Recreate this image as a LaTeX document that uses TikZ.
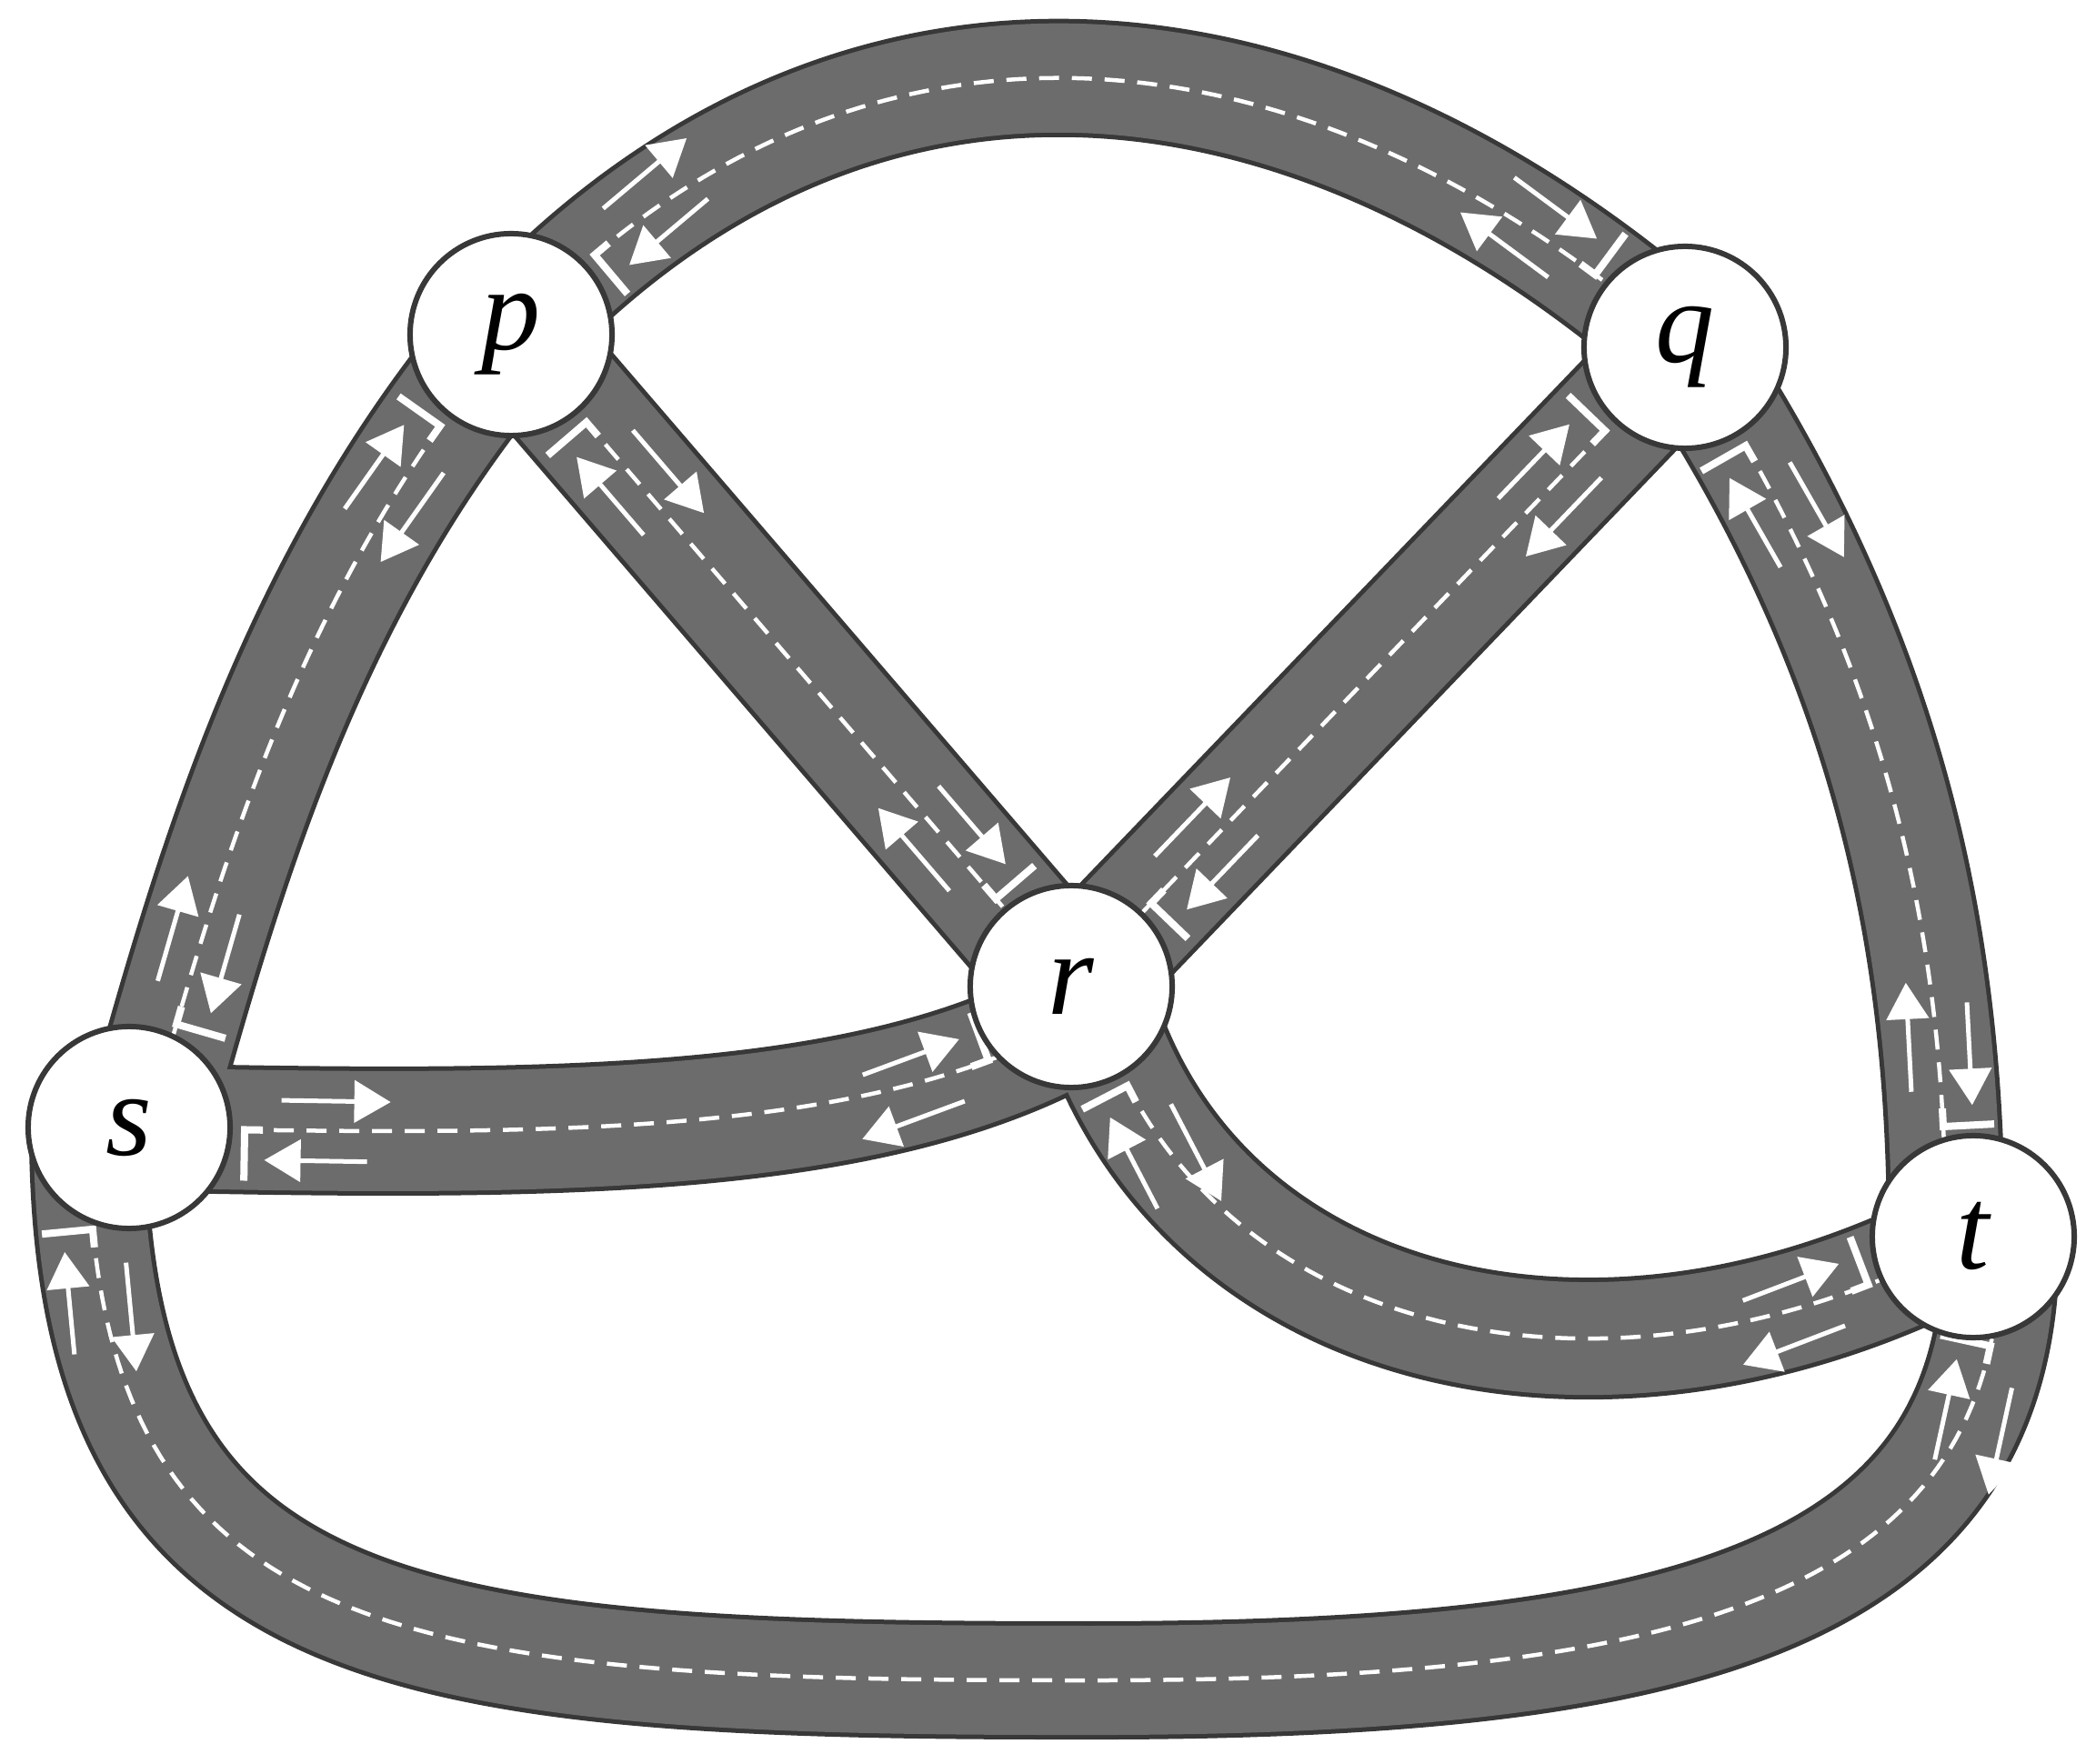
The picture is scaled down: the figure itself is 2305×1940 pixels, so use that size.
\documentclass[tikz,border=0pt]{standalone}
\usepackage{fontspec}
\setmainfont{Liberation Serif}
\usepackage{tikz}
\usetikzlibrary{arrows.meta,decorations.markings,backgrounds}

\definecolor{roadgrey}{RGB}{108,108,108}
\definecolor{roadedge}{RGB}{56,56,56}

\tikzset{
  rw/.store in=\roadwidth, rw=1.44cm,
  ms/.store in=\markstart, ms=1.27cm,
  me/.store in=\markend, me=1.27cm,
  border/.style={draw=roadedge, line width=\roadwidth},
  tarmac/.style={draw=roadgrey, line width=\roadwidth-0.1cm},
  centre/.style={draw=white, line width=0.045cm, dash pattern=on 0.22cm off 0.14cm,
    decorate, decoration={curveto, pre=moveto, pre length=\markstart+0.32cm,
      post=moveto, post length=\markend+0.32cm}},
  signs/.style={decorate, decoration={markings,
    mark=at position \markstart with {\lanemarks},
    mark=at position -\markend with {\pgftransformrotate{180}\lanemarks}}},
  junction/.style={circle, draw=roadedge, line width=0.06cm, fill=white,
    minimum size=2.22cm, inner sep=0pt, font=\fontsize{37}{40}\selectfont\itshape},
  stopline/.style={draw=white, line width=0.08cm},
  lanearrow/.style={draw=white, line width=0.05cm, ->}
}

% stop line and the two lane arrows at one end of a road
\newcommand{\lanemarks}{%
  \draw[stopline] (0.2cm,0cm) -- (0cm,0cm) -- (0cm,-0.56cm);
  \draw[lanearrow] (0.4cm,0.33cm) -- (1.6cm,0.33cm);
  \draw[lanearrow] (1.35cm,-0.33cm) -- (0.22cm,-0.33cm);
}

% every road, drawn once per layer style
\newcommand{\roads}[1]{%
  \path[rw=1.3cm, #1] (p.center) .. controls (939,-36) and (1437,16) .. (q.center);
  \path[me=1.18cm, #1] (p.center) .. controls (330,640) and (240,960) .. ([xshift=0.2cm]s.center);
  \path[#1] (p.center) -- (r.center);
  \path[#1] (q.center) -- (r.center);
  \path[rw=1.3cm, me=1.21cm, #1] (q.center) .. controls (2090,740) and (2140,1060) .. ([xshift=-0.3cm]t.center);
  \path[rw=1.42cm, me=1cm, #1] (s.center) .. controls (600,1250) and (950,1250) .. ([yshift=-0.4cm]r.center);
  \path[rw=1.34cm, ms=1.17cm, #1] ([xshift=0.2cm]r.center) .. controls (1300,1470) and (1760,1580) .. (t.center);
  \path[rw=1.3cm, ms=1.12cm, me=1.21cm, #1] ([xshift=-0.45cm]s.center) .. controls (97,1800) and (420,1848) .. (bottom)
    .. controls (1850,1850) and (2205,1760) .. ([xshift=0.3cm]t.center);
}

\begin{document}
\begin{tikzpicture}[x=0.01cm, y=-0.01cm, >={Triangle[length=0.4cm,width=0.46cm]}]
  \useasboundingbox (0,0) rectangle (2305,1940);
  % junctions
  \node[junction] (p) at (562,368)   {p};
  \node[junction] (q) at (1853,382)  {q};
  \node[junction] (r) at (1178,1085) {r};
  \node[junction] (s) at (142,1240)  {s};
  \node[junction] (t) at (2170,1360) {t};
  \coordinate (bottom) at (1176,1848);
  % roads under the junctions
  \begin{pgfonlayer}{background}
    \fill[white] (0,0) rectangle (2305,1940);
    \roads{border}
    \roads{tarmac}
    \roads{centre}
    \roads{signs}
  \end{pgfonlayer}
\end{tikzpicture}
\end{document}
